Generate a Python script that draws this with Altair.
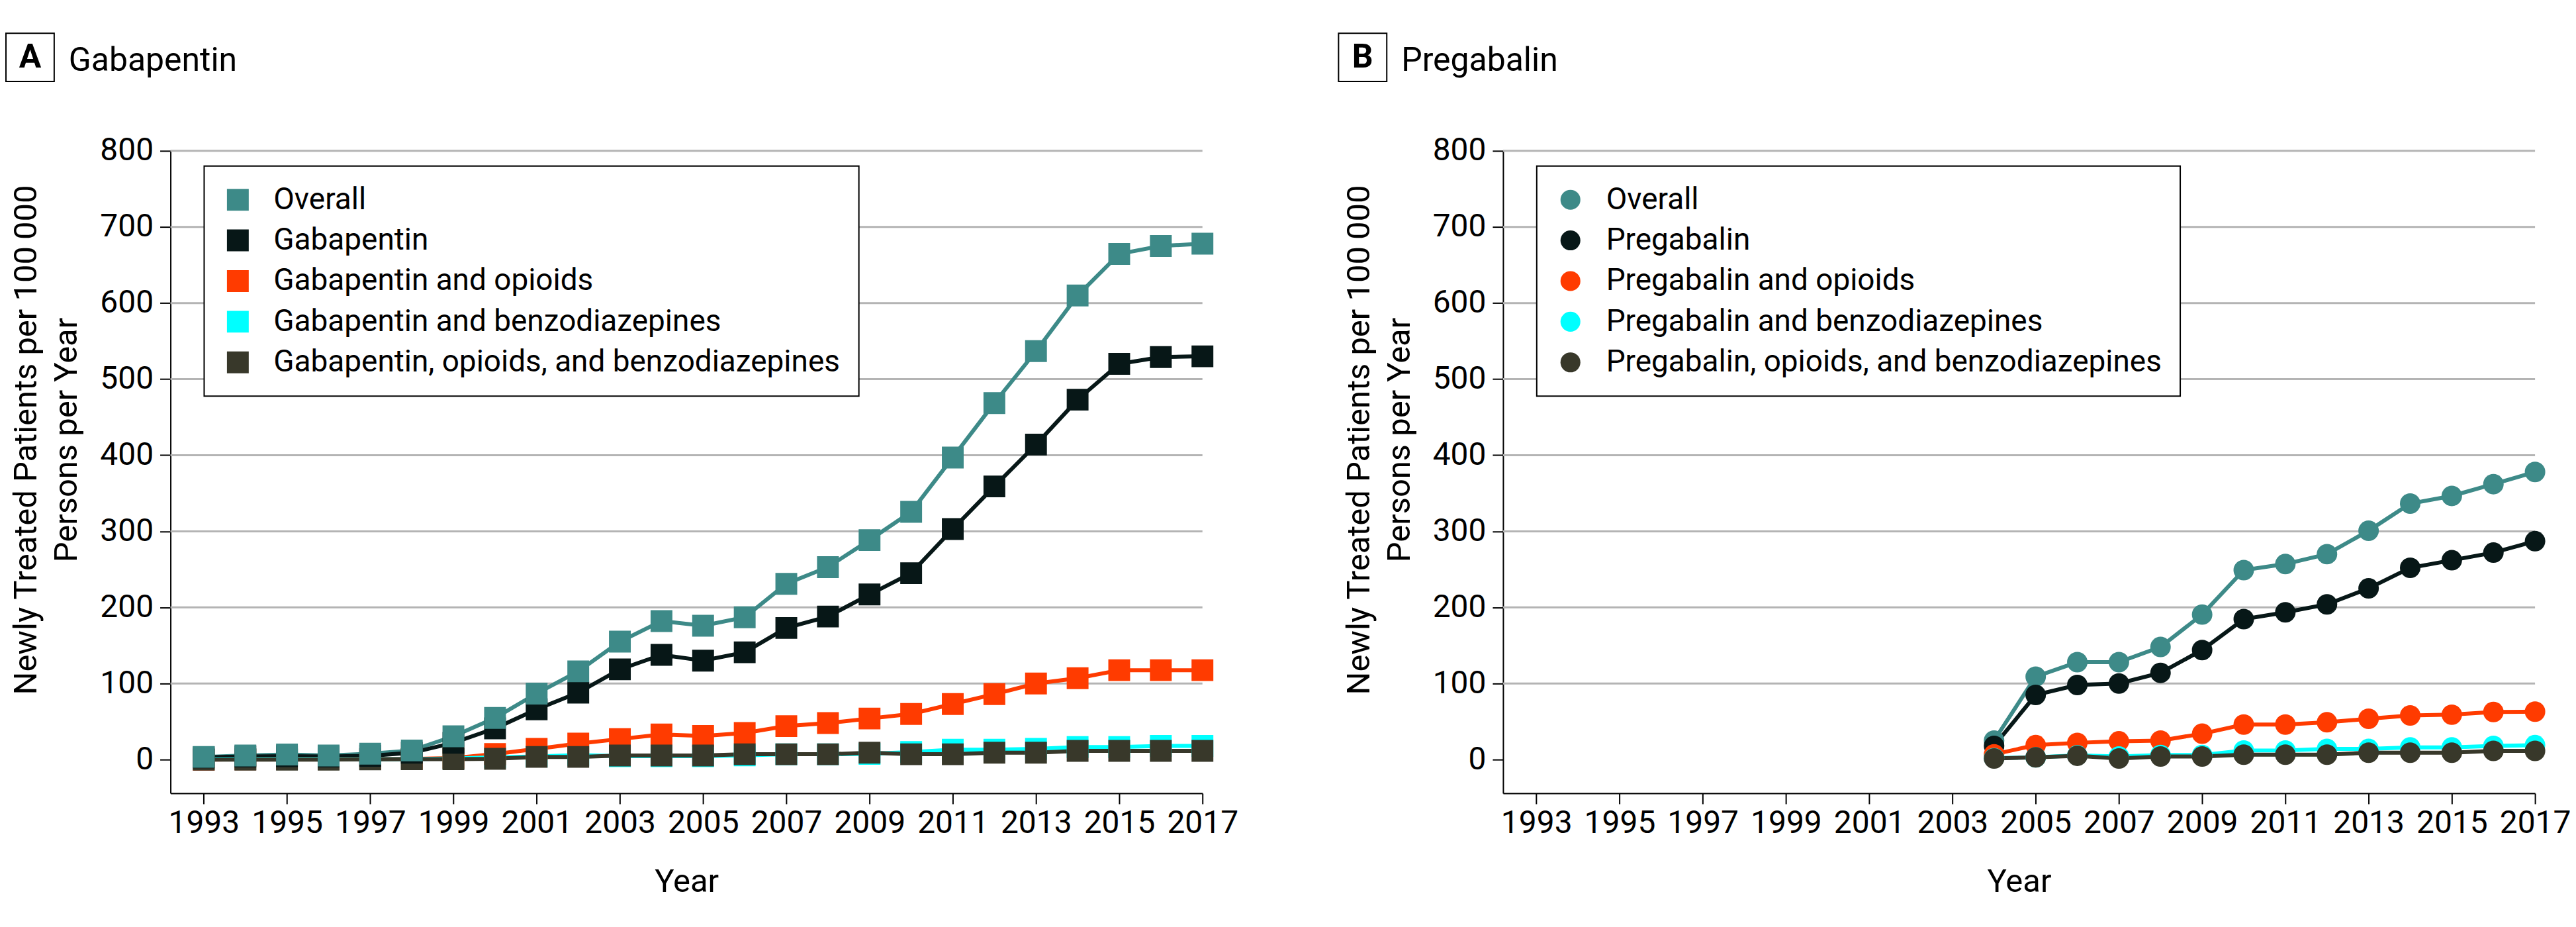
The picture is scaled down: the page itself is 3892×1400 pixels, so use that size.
import altair as alt
import pandas as pd

# ---------------- data ----------------
years_a = list(range(1993, 2018))
years_b = list(range(2004, 2018))

labels_a = ["Overall", "Gabapentin", "Gabapentin and opioids",
            "Gabapentin and benzodiazepines",
            "Gabapentin, opioids, and benzodiazepines"]
labels_b = ["Overall", "Pregabalin", "Pregabalin and opioids",
            "Pregabalin and benzodiazepines",
            "Pregabalin, opioids, and benzodiazepines"]

a_overall = [3.5, 5.4, 6.6, 5.4, 7.8, 12, 30.6, 54.7, 86.8, 116, 155, 182, 176,
             187, 231, 253, 288.5, 325.6, 397, 468.6, 536.8, 609.9, 664.6, 675, 678]
a_drug = [3, 4, 4.5, 4, 5, 9, 22, 41, 66, 88, 118.6, 137.6, 130, 141, 173, 188,
          217, 245, 303, 359, 414, 473, 520, 529, 530]
a_opioid = [0, 0.3, 0.5, 0.5, 0.5, 0.7, 2, 7.4, 14, 21, 27, 33, 31, 35, 44, 48,
            54, 60, 73, 86, 100, 107, 117.5, 117.5, 117.5]
a_benzo = [0.5, 0.5, 0.5, 0.5, 0.5, 0.5, 1.5, 3, 4, 6, 4.5, 4.5, 4.5, 5.5, 7, 7,
           7.5, 10, 13, 13, 14, 16.5, 16.5, 18, 18]
a_both = [0, 0, 0, 0, 0.3, 0.5, 0.5, 1, 3.5, 3.5, 5.4, 5.4, 5.4, 7, 7, 7, 9, 7,
          7, 9, 9, 11.5, 11.5, 11.5, 11.5]

b_overall = [25, 109, 128, 128, 148, 190.6, 249, 257, 270, 300.7, 336.5, 346.5, 362, 378]
b_drug = [18, 85, 98, 100, 114, 144, 184.6, 193.5, 204, 225, 252, 262, 272, 287]
b_opioid = [7, 19, 22, 24, 25, 34, 46, 46, 49, 53.6, 58, 59, 62.6, 63]
b_benzo = [2, 3, 5.5, 4, 6, 6, 12, 12, 14, 14, 16, 16, 18, 19]
b_both = [1.5, 3, 5, 1.5, 4, 4, 6.5, 6.5, 6.5, 9, 9, 9, 11.5, 11.5]

colors = ["#3d8a88", "#071717", "#ff3b00", "#00ffff", "#38382a"]
# drawing order of markers (bottom -> top) for each panel
rank_a = [4, 3, 1, 0, 2]
rank_b = [0, 1, 2, 3, 4]

x_ticks = list(range(1993, 2018, 2))
y_ticks = list(range(0, 900, 100))
grid_vals = list(range(100, 900, 100))

panel_letters = ["A", "B"]
panel_titles = ["Gabapentin", "Pregabalin"]
x_title = "Year"
y_title = ["Newly Treated Patients per 100\u2009000", "Persons per Year"]

FONT = "Roboto"


def make_df(years, labels, series, ranks):
    rows = []
    for lab, col, vals, r in zip(labels, colors, series, ranks):
        for yr, v in zip(years, vals):
            rows.append({"year": yr, "value": v, "series": lab, "hex": col, "rank": r})
    return pd.DataFrame(rows)


df_a = make_df(years_a, labels_a, [a_overall, a_drug, a_opioid, a_benzo, a_both], rank_a)
df_b = make_df(years_b, labels_b, [b_overall, b_drug, b_opioid, b_benzo, b_both], rank_b)


def panel(df, labels, shape, msize, lsize, letter, title):
    x = alt.X("year:Q",
              scale=alt.Scale(domain=[1992.2, 2017], nice=False, zero=False),
              axis=alt.Axis(values=x_ticks, format="d", title=x_title,
                            grid=False, labelFlush=False, labelOverlap=False,
                            labelPadding=6, titlePadding=40))
    y = alt.Y("value:Q",
              scale=alt.Scale(domain=[-44.3, 800], nice=False, zero=False),
              axis=alt.Axis(values=y_ticks, grid=False, title=y_title,
                            labelFlush=False, labelOverlap=False, labelPadding=10,
                            titleX=-218, titleY=437, titleAngle=270,
                            titleAlign="center", titleBaseline="middle",
                            titleLineHeight=61))
    color_pt = alt.Color(
        "series:N", scale=alt.Scale(domain=labels, range=colors),
        legend=alt.Legend(title=None, orient="none", legendX=51, legendY=23,
                          direction="vertical", fillColor="white",
                          strokeColor="black", padding=28, rowPadding=15.5,
                          symbolType=shape, symbolSize=lsize,
                          symbolStrokeWidth=0, symbolOpacity=1, symbolOffset=0,
                          labelOffset=31, labelFont=FONT, labelFontSize=46,
                          labelColor="black", labelLimit=1500))

    grid = alt.Chart(pd.DataFrame({"value": grid_vals})).mark_rule(
        color="#b4b4b4", strokeWidth=3).encode(y=alt.Y("value:Q"))
    lines = alt.Chart(df).mark_line(strokeWidth=6).encode(
        x=x, y=y, color=alt.Color("hex:N", scale=None), detail="series:N")
    if shape == "square":
        pts = alt.Chart(df).mark_point(shape="square", size=msize, filled=True,
                                       opacity=1, strokeWidth=0)
    else:
        pts = alt.Chart(df).mark_circle(size=msize, opacity=1, strokeWidth=0)
    pts = pts.encode(x=x, y=y, color=color_pt, order=alt.Order("rank:Q"))

    head = pd.DataFrame({"letter": [letter], "title": [title]})
    box = alt.Chart(head).mark_rect(fill="white", stroke="black", strokeWidth=2).encode(
        x=alt.value(-249), x2=alt.value(-176), y=alt.value(-178), y2=alt.value(-105))
    let = alt.Chart(head).mark_text(font=FONT, fontSize=50, fontWeight="bold",
                                    align="center", baseline="middle",
                                    color="black").encode(
        x=alt.value(-212.5), y=alt.value(-141), text="letter:N")
    tit = alt.Chart(head).mark_text(font=FONT, fontSize=50, align="left",
                                    baseline="alphabetic", color="black").encode(
        x=alt.value(-154), y=alt.value(-121), text="title:N")

    return alt.layer(grid, lines, pts, box, let, tit).properties(width=1562, height=972)


pa = panel(df_a, labels_a, "square", 1089, 1089, panel_letters[0], panel_titles[0])
pb = panel(df_b, labels_b, "circle", 962, 908, panel_letters[1], panel_titles[1])

chart = alt.hconcat(pa, pb, spacing=455, bounds="flush").resolve_scale(
    color="independent"
).properties(
    padding={"left": 0, "top": 40, "right": 0, "bottom": 0}
).configure(font=FONT).configure_axis(
    labelFont=FONT, labelFontSize=48, labelColor="black",
    titleFont=FONT, titleFontSize=49, titleFontWeight="normal", titleColor="black",
    domainColor="black", domainWidth=2, tickColor="black", tickWidth=2, tickSize=16
).configure_legend(strokeWidth=2).configure_view(stroke=None)

chart.save("out.html", embed_options={"renderer": "svg", "actions": False})
